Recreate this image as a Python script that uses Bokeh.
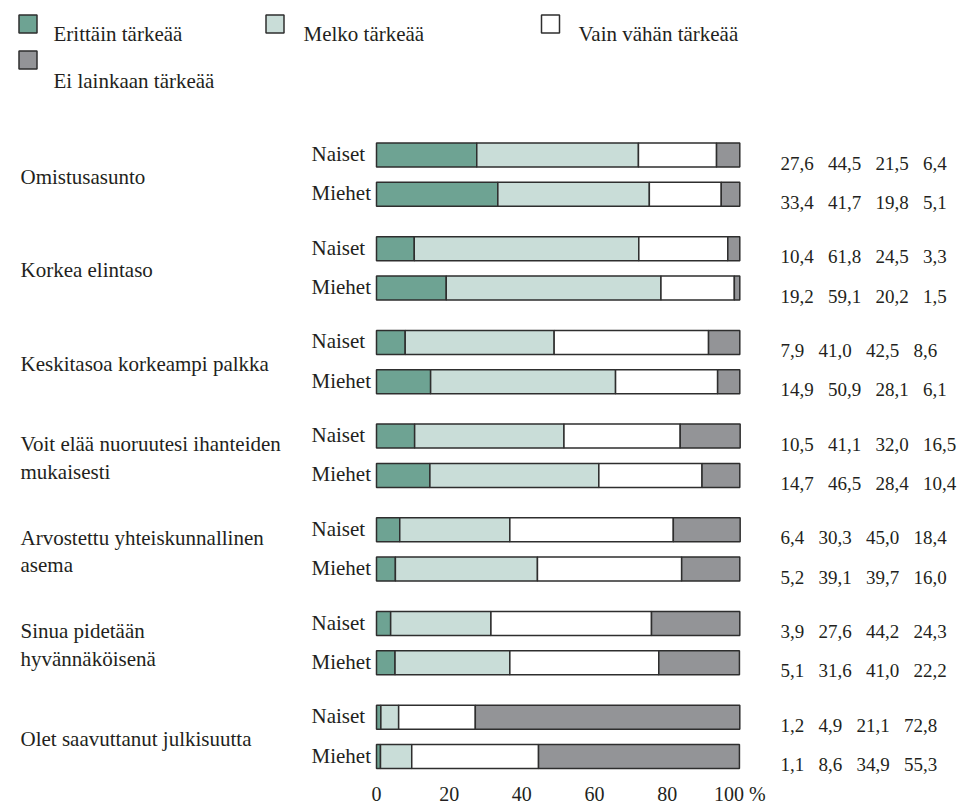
from bokeh.plotting import figure
from bokeh.models import ColumnDataSource, Range1d, FixedTicker
from bokeh.core.properties import value
from bokeh.embed import file_html
from bokeh.resources import INLINE

# ---- data ----
categories = [
    "Omistusasunto",
    "Korkea elintaso",
    "Keskitasoa korkeampi palkka",
    "Voit elää nuoruutesi ihanteiden\nmukaisesti",
    "Arvostettu yhteiskunnallinen\nasema",
    "Sinua pidetään\nhyvännäköisenä",
    "Olet saavuttanut julkisuutta",
]
groups = ["Naiset", "Miehet"]
series_names = ["Erittäin tärkeää", "Melko tärkeää", "Vain vähän tärkeää", "Ei lainkaan tärkeää"]

naiset_erittain = [27.6, 10.4, 7.9, 10.5, 6.4, 3.9, 1.2]
naiset_melko = [44.5, 61.8, 41.0, 41.1, 30.3, 27.6, 4.9]
naiset_vain = [21.5, 24.5, 42.5, 32.0, 45.0, 44.2, 21.1]
naiset_ei = [6.4, 3.3, 8.6, 16.5, 18.4, 24.3, 72.8]

miehet_erittain = [33.4, 19.2, 14.9, 14.7, 5.2, 5.1, 1.1]
miehet_melko = [41.7, 59.1, 50.9, 46.5, 39.1, 31.6, 8.6]
miehet_vain = [19.8, 20.2, 28.1, 28.4, 39.7, 41.0, 34.9]
miehet_ei = [5.1, 1.5, 6.1, 10.4, 16.0, 22.2, 55.3]

x_ticks = [0, 20, 40, 60, 80, 100]
x_tick_labels = {100: "100 %"}

# ---- style / layout ----
colors = ["#6ea393", "#c9ddd8", "#ffffff", "#939497"]
edge = "#2e2e2e"
text_color = "#231f20"
FONT = "Times New Roman"
FS_LABEL = "21px"
FS_VAL = "19px"
FS_TICK = "20px"

W, H = 962, 776
PX_PER_UNIT = 3.633
X0 = 376.0  # pixel position of 0 %
x_start = -X0 / PX_PER_UNIT
x_end = x_start + W / PX_PER_UNIT


def ux(px):
    return (px - X0) / PX_PER_UNIT


first_center = 154.5
group_step = 93.7
pair_offset = 39.3
bar_h = 24

n = len(categories)
ys, labels_g, e, m, v, ei = [], [], [], [], [], []
for i in range(n):
    for k, g in enumerate(groups):
        ys.append(first_center + i * group_step + k * pair_offset)
        labels_g.append(g)
        if g == "Naiset":
            e.append(naiset_erittain[i]); m.append(naiset_melko[i]); v.append(naiset_vain[i]); ei.append(naiset_ei[i])
        else:
            e.append(miehet_erittain[i]); m.append(miehet_melko[i]); v.append(miehet_vain[i]); ei.append(miehet_ei[i])


def fmt(x):
    return f"{x:.1f}".replace(".", ",")


vals_txt = ["\u2002 ".join(fmt(a) for a in row) for row in zip(e, m, v, ei)]

src = ColumnDataSource(dict(y=ys, g=labels_g, e=e, m=m, v=v, ei=ei, txt=vals_txt,
                            ty=[y + 8 for y in ys], gy=[y - 1 for y in ys],
                            gx=[ux(311)] * len(ys), tx=[ux(780)] * len(ys)))

p = figure(frame_width=W, frame_height=H, output_backend="svg", toolbar_location=None,
           x_range=Range1d(x_start, x_end), y_range=Range1d(H, 0),
           y_axis_location=None, min_border=0)
p.outline_line_color = None
p.xgrid.visible = False
p.ygrid.visible = False
p.background_fill_color = "white"
p.border_fill_color = "white"

p.hbar_stack(["e", "m", "v", "ei"], y="y", height=bar_h, color=colors, source=src,
             line_color=edge, line_width=1.5)

p.text(x="gx", y="gy", text="g", source=src, text_font=value(FONT), text_font_size=FS_LABEL,
       text_color=text_color, text_baseline="middle", text_align="left")
p.text(x="tx", y="ty", text="txt", source=src, text_font=value(FONT), text_font_size=FS_VAL,
       text_color=text_color, text_baseline="middle", text_align="left")

cat_src = ColumnDataSource(dict(
    x=[ux(20)] * n,
    y=[first_center + i * group_step + pair_offset / 2 + 2 for i in range(n)],
    t=categories))
p.text(x="x", y="y", text="t", source=cat_src, text_font=value(FONT), text_font_size=FS_LABEL,
       text_color=text_color, text_baseline="middle", text_align="left", text_line_height=1.15)

# legend (manual)
leg_src = ColumnDataSource(dict(
    x=[ux(27.5), ux(274.5), ux(550), ux(27.5)],
    y=[23.5, 23.5, 23.5, 59.5],
    tx=[ux(53), ux(303), ux(578), ux(53)],
    ty=[33, 33, 33, 80],
    c=colors, t=series_names))
p.rect(x="x", y="y", width=18, height=18, width_units="screen", height_units="screen",
       fill_color="c", line_color=edge, line_width=1.5, source=leg_src)
p.text(x="tx", y="ty", text="t", source=leg_src, text_font=value(FONT), text_font_size=FS_LABEL,
       text_color=text_color, text_baseline="alphabetic", text_align="left")

ax = p.xaxis[0]
ax.ticker = FixedTicker(ticks=x_ticks)
ax.major_label_overrides = x_tick_labels
ax.axis_line_color = None
ax.major_tick_line_color = None
ax.minor_tick_line_color = None
ax.major_label_standoff = 0
ax.major_label_text_font = FONT
ax.major_label_text_font_size = FS_TICK
ax.major_label_text_color = text_color

open("out.html", "w").write(file_html(p, INLINE))
